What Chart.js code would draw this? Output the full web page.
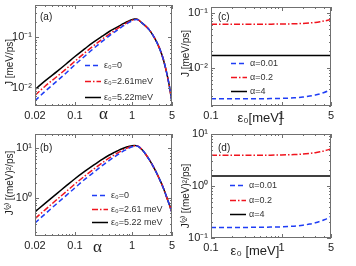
<!DOCTYPE html>
<html>
<head>
<meta charset="utf-8">
<script src="https://cdn.jsdelivr.net/npm/chart.js@4.4.1/dist/chart.umd.min.js"></script>
<style>
    body { margin: 0; background: #fff; width: 356px; height: 266px; overflow: hidden; position: relative; }
    canvas { position: absolute; }
</style>
</head>
<body>
<canvas id="panelA" width="178" height="133" style="left:0;top:0"></canvas>
<canvas id="panelB" width="178" height="133" style="left:0;top:133px"></canvas>
<canvas id="panelC" width="178" height="133" style="left:178px;top:0"></canvas>
<canvas id="panelD" width="178" height="143" style="left:178px;top:123px"></canvas>
<script>
// ---- data ----
var alphaValues = [0.02, 0.03, 0.05, 0.07, 0.1, 0.15, 0.2, 0.3, 0.4, 0.5, 0.6, 0.7, 0.8, 0.9, 1, 1.1, 1.2, 1.5, 2, 2.5, 3, 3.5, 4, 4.5, 5];
var alphaTicks = [0.02, 0.1, 1, 5];

// panel (a): J [meV/ps]
var jEps0 = [0.0057, 0.0087, 0.0143, 0.020, 0.029, 0.043, 0.057, 0.083, 0.107, 0.128, 0.148, 0.167, 0.183, 0.198, 0.210, 0.220, 0.224, 0.19, 0.14, 0.095, 0.062, 0.038, 0.021, 0.011, 0.0052];
var jEps261 = [0.0073, 0.011, 0.0175, 0.024, 0.034, 0.050, 0.065, 0.092, 0.116, 0.137, 0.157, 0.175, 0.190, 0.205, 0.216, 0.224, 0.226, 0.19, 0.14, 0.095, 0.062, 0.038, 0.021, 0.011, 0.0052];
var jEps522 = [0.0095, 0.014, 0.022, 0.030, 0.042, 0.060, 0.077, 0.105, 0.130, 0.150, 0.168, 0.185, 0.200, 0.212, 0.222, 0.228, 0.228, 0.19, 0.14, 0.095, 0.062, 0.038, 0.021, 0.011, 0.0052];

// panel (b): J^(2) [(meV)^2/ps]
var j2Eps0 = [0.31, 0.47, 0.79, 1.1, 1.58, 2.35, 3.05, 4.4, 5.6, 6.7, 7.7, 8.6, 9.3, 10.0, 10.5, 10.8, 10.9, 9.2, 5.8, 3.7, 2.4, 1.6, 1.05, 0.72, 0.5];
var j2Eps261 = [0.38, 0.57, 0.95, 1.32, 1.88, 2.75, 3.55, 5.0, 6.3, 7.3, 8.3, 9.1, 9.8, 10.4, 10.8, 11.0, 11.0, 9.2, 5.8, 3.7, 2.4, 1.6, 1.05, 0.72, 0.5];
var j2Eps522 = [0.52, 0.77, 1.25, 1.72, 2.4, 3.4, 4.3, 5.9, 7.2, 8.2, 9.1, 9.8, 10.4, 10.8, 11.1, 11.2, 11.1, 9.2, 5.8, 3.7, 2.4, 1.6, 1.05, 0.72, 0.5];

var epsValues = [0.1, 0.2, 0.3, 0.5, 0.7, 1, 1.5, 2, 2.5, 3, 3.5, 4, 4.5, 5];
var epsTicks = [0.1, 1, 5];

// panel (c): J vs eps0
var jAlpha001 = [0.0027, 0.0027, 0.0027, 0.00271, 0.00273, 0.00275, 0.00282, 0.00291, 0.00303, 0.00317, 0.00334, 0.00353, 0.00375, 0.0040];
var jAlpha02 = [0.062, 0.062, 0.062, 0.0621, 0.0623, 0.0626, 0.0633, 0.0642, 0.0655, 0.067, 0.0689, 0.071, 0.0733, 0.076];
var jAlpha4 = [0.0167, 0.0167, 0.0167, 0.0167, 0.0167, 0.0167, 0.0167, 0.0167, 0.0167, 0.0167, 0.0167, 0.0167, 0.0167, 0.0167];

// panel (d): J^(2) vs eps0
var j2Alpha001 = [0.16, 0.16, 0.16, 0.161, 0.162, 0.164, 0.169, 0.176, 0.185, 0.196, 0.209, 0.224, 0.241, 0.26];
var j2Alpha02 = [3.9, 3.9, 3.9, 3.91, 3.92, 3.95, 4.02, 4.11, 4.23, 4.37, 4.54, 4.73, 4.95, 5.2];
var j2Alpha4 = [1.56, 1.56, 1.56, 1.56, 1.56, 1.56, 1.56, 1.56, 1.56, 1.56, 1.56, 1.56, 1.56, 1.56];

var SANS = '"Liberation Sans", Arial, sans-serif';
var BLUE = '#1f3df5', RED = '#f0141e', BLACK = '#000000';
var DASHED = [5, 3], DASHDOT = [6, 2, 1.5, 2], SOLID = [];

function sup(n) {
    var map = {'-': '⁻', '0': '⁰', '1': '¹', '2': '²', '3': '³', '4': '⁴', '5': '⁵', '6': '⁶', '7': '⁷', '8': '⁸', '9': '⁹'};
    return String(n).split('').map(function (c) { return map[c]; }).join('');
}

function logSteps(min, max) {
    var out = [];
    for (var d = Math.floor(Math.log10(min)); d <= Math.ceil(Math.log10(max)); d++) {
        for (var k = 1; k <= 9; k++) {
            var v = k * Math.pow(10, d);
            if (v >= min * 0.999 && v <= max * 1.001) out.push({value: v, major: k === 1});
        }
    }
    return out;
}

// box, inward ticks, panel tag, legend and axis titles
var decor = {
    id: 'decor',
    afterDatasetsDraw: function (chart, args, opts) {
        var ctx = chart.ctx, a = chart.chartArea;
        var xs = chart.scales.x, ys = chart.scales.y;
        ctx.save();
        ctx.strokeStyle = '#707070';
        ctx.lineWidth = 1;
        ctx.setLineDash([]);
        ctx.strokeRect(a.left + 0.5, a.top + 0.5, a.right - a.left - 1, a.bottom - a.top - 1);

        ctx.beginPath();
        logSteps(xs.min, xs.max).forEach(function (t) {
            var len = (t.major || opts.xTicks.indexOf(t.value) >= 0) ? 4 : 2;
            var px = Math.round(xs.getPixelForValue(t.value)) + 0.5;
            ctx.moveTo(px, a.bottom); ctx.lineTo(px, a.bottom - len);
            ctx.moveTo(px, a.top); ctx.lineTo(px, a.top + len);
        });
        logSteps(ys.min, ys.max).forEach(function (t) {
            var len = t.major ? 4 : 2;
            var py = Math.round(ys.getPixelForValue(t.value)) + 0.5;
            ctx.moveTo(a.left, py); ctx.lineTo(a.left + len, py);
            ctx.moveTo(a.right, py); ctx.lineTo(a.right - len, py);
        });
        ctx.stroke();

        ctx.fillStyle = '#222';
        ctx.textBaseline = 'middle';
        ctx.textAlign = 'left';
        ctx.font = '10px ' + SANS;
        ctx.fillText(opts.tag, a.left + opts.tagDx, a.top + opts.tagDy);

        // legend, no box
        ctx.font = '9px ' + SANS;
        chart.data.datasets.forEach(function (ds, i) {
            var lx = a.left + opts.legendDx, ly = Math.round(a.top + opts.legendDy + i * opts.legendGap) + 0.5;
            ctx.strokeStyle = ds.borderColor;
            ctx.lineWidth = ds.borderWidth;
            ctx.setLineDash(ds.borderDash);
            ctx.beginPath();
            ctx.moveTo(lx, ly); ctx.lineTo(lx + 16, ly);
            ctx.stroke();
            ctx.fillStyle = '#333';
            ctx.fillText(ds.label, lx + 19, ly);
        });
        ctx.setLineDash([]);

        ctx.fillStyle = '#222';
        ctx.textAlign = 'center';
        ctx.font = opts.xTitleFont;
        ctx.fillText(opts.xTitle, (a.left + a.right) / 2 + opts.xTitleDx, a.bottom + opts.xTitleDy);

        ctx.font = '10px ' + SANS;
        ctx.translate(opts.yTitleX, (a.top + a.bottom) / 2 + opts.yTitleDy);
        ctx.rotate(-Math.PI / 2);
        ctx.fillText(opts.yTitle, 0, 0);
        ctx.restore();
    }
};

function makePanel(id, cfg) {
    return new Chart(document.getElementById(id), {
        type: 'line',
        data: {
            datasets: cfg.series.map(function (s) {
                return {
                    label: s.label,
                    data: cfg.xs.map(function (x, i) { return {x: x, y: s.values[i]}; }),
                    borderColor: s.color,
                    borderDash: s.dash,
                    borderWidth: 1.5,
                    pointRadius: 0,
                    cubicInterpolationMode: 'monotone',
                    fill: false
                };
            })
        },
        options: {
            responsive: false,
            animation: false,
            layout: {padding: cfg.padding},
            plugins: {
                legend: {display: false},
                tooltip: {enabled: false},
                decor: cfg.decor
            },
            scales: {
                x: {
                    type: 'logarithmic',
                    min: cfg.xMin, max: cfg.xMax,
                    grid: {display: false, drawTicks: false},
                    border: {display: false},
                    afterBuildTicks: function (scale) {
                        scale.ticks = cfg.xTicks.map(function (v) { return {value: v}; });
                    },
                    afterFit: function (scale) {
                        scale.height = cfg.xHeight;
                        scale.paddingLeft = 0;
                        scale.paddingRight = 0;
                    },
                    ticks: {
                        autoSkip: false, maxRotation: 0, padding: 3, color: '#222',
                        font: {size: 11, family: SANS},
                        callback: function (v) { return String(v); }
                    }
                },
                y: {
                    type: 'logarithmic',
                    min: cfg.yMin, max: cfg.yMax,
                    grid: {display: false, drawTicks: false},
                    border: {display: false},
                    afterBuildTicks: function (scale) {
                        scale.ticks = cfg.yTicks.map(function (v) { return {value: v}; });
                    },
                    afterFit: function (scale) {
                        scale.width = cfg.yWidth;
                        scale.paddingTop = 0;
                        scale.paddingBottom = 0;
                    },
                    ticks: {
                        autoSkip: false, padding: 3, color: '#222',
                        font: {size: 11, family: SANS},
                        callback: function (v) { return '10' + sup(Math.round(Math.log10(v))); }
                    }
                }
            }
        },
        plugins: [decor]
    });
}

var alphaFont = '17px "Liberation Serif", "DejaVu Serif", serif';
var epsFont = '13px ' + SANS;

makePanel('panelA', {
    xs: alphaValues, xTicks: alphaTicks, xMin: 0.02, xMax: 5,
    yTicks: [0.01, 0.1], yMin: 0.0045, yMax: 0.43,
    padding: {left: 0, top: 5, right: 6, bottom: 10}, yWidth: 35, xHeight: 17,
    series: [
        {label: 'ε₀=0', values: jEps0, color: BLUE, dash: DASHED},
        {label: 'ε₀=2.61meV', values: jEps261, color: RED, dash: DASHDOT},
        {label: 'ε₀=5.22meV', values: jEps522, color: BLACK, dash: SOLID}
    ],
    decor: {
        tag: '(a)', tagDx: 5, tagDy: 12, xTicks: alphaTicks,
        legendDx: 50, legendDy: 60, legendGap: 16,
        xTitle: 'α', xTitleFont: alphaFont, xTitleDx: 0, xTitleDy: 9,
        yTitle: 'J [meV/ps]', yTitleX: 10, yTitleDy: 7
    }
});

makePanel('panelB', {
    xs: alphaValues, xTicks: alphaTicks, xMin: 0.02, xMax: 5,
    yTicks: [1, 10], yMin: 0.17, yMax: 19,
    padding: {left: 0, top: 1, right: 6, bottom: 13}, yWidth: 35, xHeight: 17,
    series: [
        {label: 'ε₀=0', values: j2Eps0, color: BLUE, dash: DASHED},
        {label: 'ε₀=2.61 meV', values: j2Eps261, color: RED, dash: DASHDOT},
        {label: 'ε₀=5.22 meV', values: j2Eps522, color: BLACK, dash: SOLID}
    ],
    decor: {
        tag: '(b)', tagDx: 5, tagDy: 14, xTicks: alphaTicks,
        legendDx: 57, legendDy: 61, legendGap: 13.5,
        xTitle: 'α', xTitleFont: alphaFont, xTitleDx: -6, xTitleDy: 12,
        yTitle: 'J⁽²⁾ [(meV)²/ps]', yTitleX: 10, yTitleDy: -2
    }
});

makePanel('panelC', {
    xs: epsValues, xTicks: epsTicks, xMin: 0.1, xMax: 5,
    yTicks: [0.01, 0.1], yMin: 0.002, yMax: 0.128,
    padding: {left: 0, top: 7, right: 25, bottom: 10}, yWidth: 33, xHeight: 17,
    series: [
        {label: 'α=0.01', values: jAlpha001, color: BLUE, dash: DASHED},
        {label: 'α=0.2', values: jAlpha02, color: RED, dash: DASHDOT},
        {label: 'α=4', values: jAlpha4, color: BLACK, dash: SOLID}
    ],
    decor: {
        tag: '(c)', tagDx: 7, tagDy: 10, xTicks: epsTicks,
        legendDx: 20, legendDy: 56, legendGap: 14,
        xTitle: 'ε₀[meV]', xTitleFont: epsFont, xTitleDx: -11, xTitleDy: 12,
        yTitle: 'J [meV/ps]', yTitleX: 8, yTitleDy: -3
    }
});

makePanel('panelD', {
    xs: epsValues, xTicks: epsTicks, xMin: 0.1, xMax: 5,
    yTicks: [0.1, 1, 10], yMin: 0.1, yMax: 10,
    padding: {left: 0, top: 11, right: 25, bottom: 11}, yWidth: 33, xHeight: 17,
    series: [
        {label: 'α=0.01', values: j2Alpha001, color: BLUE, dash: DASHED},
        {label: 'α=0.2', values: j2Alpha02, color: RED, dash: DASHDOT},
        {label: 'α=4', values: j2Alpha4, color: BLACK, dash: SOLID}
    ],
    decor: {
        tag: '(d)', tagDx: 7, tagDy: 14, xTicks: epsTicks,
        legendDx: 19, legendDy: 51, legendGap: 14.5,
        xTitle: 'ε₀ [meV]', xTitleFont: epsFont, xTitleDx: -16, xTitleDy: 13,
        yTitle: 'J⁽²⁾ [(meV)²/ps]', yTitleX: 8, yTitleDy: 10
    }
});
</script>
</body>
</html>
